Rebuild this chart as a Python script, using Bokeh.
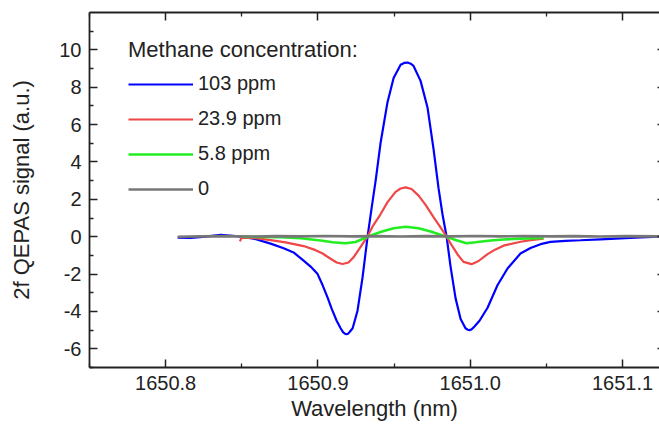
from bokeh.plotting import figure
from bokeh.models import Range1d, LinearAxis, FixedTicker, Legend, LegendItem, PrintfTickFormatter, CustomJSTickFormatter
from bokeh.embed import file_html
from bokeh.resources import INLINE

# ---- data ----
wl_103 = [1650.8079, 1650.8164, 1650.8263, 1650.8361, 1650.8440, 1650.8492, 1650.8578, 1650.8689,
          1650.8775, 1650.8840, 1650.8906, 1650.8952, 1650.8998, 1650.9031, 1650.9063, 1650.9090,
          1650.9123, 1650.9149, 1650.9166, 1650.9182, 1650.9197, 1650.9208, 1650.9228, 1650.9260,
          1650.9293, 1650.9326,
          1650.9352, 1650.9379, 1650.9411, 1650.9457, 1650.9497, 1650.9543, 1650.9566, 1650.9589,
          1650.9609, 1650.9628, 1650.9674, 1650.9720, 1650.9759, 1650.9792, 1650.9818, 1650.9845,
          1650.9871, 1650.9904, 1650.9937, 1650.9969, 1650.9984, 1650.9996, 1651.0010, 1651.0028,
          1651.0061, 1651.0114,
          1651.0179, 1651.0245, 1651.0330, 1651.0396, 1651.0462, 1651.0527, 1651.0626, 1651.0724,
          1651.0856, 1651.0987, 1651.1118, 1651.1243]
sig_103 = [-0.05, -0.07, 0.0, 0.10, 0.05, 0.0, -0.1, -0.37,
           -0.62, -0.84, -1.28, -1.6, -2.0, -2.6, -3.25, -3.85,
           -4.5, -4.9, -5.12, -5.22, -5.2, -5.1, -4.9, -3.96,
           -2.18, 0.0,
           1.5, 3.0, 5.0, 7.2, 8.5, 9.2, 9.3, 9.32,
           9.26, 9.14, 8.34, 6.9, 4.7, 2.6, 1.2, 0.0,
           -1.6, -3.3, -4.4, -4.9, -4.98, -5.0, -4.95, -4.8,
           -4.5, -3.8,
           -2.6, -1.7, -0.9, -0.6, -0.4, -0.28, -0.22, -0.19,
           -0.14, -0.09, -0.04, 0.0]

wl_239 = [1650.8488, 1650.8498, 1650.8591, 1650.8689, 1650.8788, 1650.8906, 1650.8985, 1650.9031,
          1650.9083, 1650.9123, 1650.9162, 1650.9201, 1650.9234, 1650.9267, 1650.9300, 1650.9326,
          1650.9359, 1650.9411, 1650.9457, 1650.9510, 1650.9543, 1650.9576, 1650.9615, 1650.9661,
          1650.9707, 1650.9759, 1650.9805, 1650.9845, 1650.9878, 1650.9917, 1650.9956, 1651.0009,
          1651.0055, 1651.0114, 1651.0166, 1651.0219, 1651.0331, 1651.0396, 1651.0482]
sig_239 = [-0.25, -0.05, -0.08, -0.18, -0.3, -0.5, -0.72, -0.9,
           -1.18, -1.38, -1.46, -1.38, -1.1, -0.7, -0.3, 0.02,
           0.55, 1.2, 1.85, 2.4, 2.58, 2.64, 2.55, 2.2,
           1.7, 1.05, 0.5, 0.0, -0.45, -0.95, -1.35, -1.47,
           -1.3, -0.93, -0.68, -0.48, -0.27, -0.18, -0.11]

wl_58 = [1650.8492, 1650.8624, 1650.8755, 1650.8886, 1650.9018, 1650.9096, 1650.9182, 1650.9247,
         1650.9293, 1650.9326, 1650.9411, 1650.9497, 1650.9576, 1650.9661, 1650.9740, 1650.9805,
         1650.9845, 1650.9904, 1650.9976, 1651.0035, 1651.0134, 1651.0219, 1651.0331, 1651.0482]
sig_58 = [0.0, -0.01, -0.03, -0.08, -0.2, -0.3, -0.35, -0.28,
          -0.12, 0.0, 0.25, 0.45, 0.53, 0.45, 0.28, 0.1,
          0.0, -0.18, -0.35, -0.3, -0.2, -0.15, -0.1, -0.07]

wl_0 = [1650.8079, 1650.8230, 1650.8394, 1650.8558, 1650.8722, 1650.8886, 1650.9050, 1650.9214,
        1650.9379, 1650.9543, 1650.9707, 1650.9871, 1651.0035, 1651.0199, 1651.0363, 1651.0527,
        1651.0692, 1651.0856, 1651.1020, 1651.1243]
sig_0 = [0.0, 0.02, 0.03, 0.01, 0.03, 0.02, 0.04, 0.02,
         0.03, 0.01, 0.03, 0.02, 0.04, 0.02, 0.03, 0.02,
         0.03, 0.01, 0.03, 0.02]

labels = ["103 ppm", "23.9 ppm", "5.8 ppm", "0"]
colors = ["#0000ff", "#f04646", "#22ee22", "#777777"]
widths = [2.2, 2.2, 2.6, 2.6]

x_major = [1650.8, 1650.9, 1651.0, 1651.1]
x_minor = [1650.75, 1650.85, 1650.95, 1651.05]
y_major = [-6, -4, -2, 0, 2, 4, 6, 8, 10]
y_minor = [-7, -5, -3, -1, 1, 3, 5, 7, 9, 11]

FONT = "Liberation Sans"
AXC = "#222222"

p = figure(width=659, height=432, output_backend="svg", toolbar_location=None,
           x_range=Range1d(1650.75, 1651.1243), y_range=Range1d(-7, 12),
           min_border_left=89, min_border_right=0, min_border_top=12, min_border_bottom=65,
           x_axis_label="Wavelength (nm)", y_axis_label="2f QEPAS signal (a.u.)")
p.grid.visible = False
p.outline_line_color = None
p.background_fill_color = "white"
p.border_fill_color = "white"

renderers = []
for xs, ys, c, w in zip([wl_103, wl_239, wl_58, wl_0], [sig_103, sig_239, sig_58, sig_0], colors, widths):
    renderers.append(p.line(xs, ys, line_color=c, line_width=w))

def style(ax, ticks, minor, labels_on=True):
    ax.ticker = FixedTicker(ticks=ticks, minor_ticks=minor)
    ax.axis_line_color = AXC
    ax.axis_line_width = 1.8
    ax.major_tick_line_color = AXC
    ax.minor_tick_line_color = AXC
    ax.major_tick_line_width = 1.5
    ax.minor_tick_line_width = 1.3
    ax.major_tick_in = 8
    ax.major_tick_out = 0
    ax.minor_tick_in = 4
    ax.minor_tick_out = 0
    ax.major_label_text_font = FONT
    ax.major_label_text_color = "#222222"
    ax.major_label_text_font_size = "20px"
    if labels_on:
        ax.major_label_standoff = 8
    else:
        ax.formatter = CustomJSTickFormatter(code="return ''")
        ax.major_label_standoff = 0

xa = p.xaxis[0]
style(xa, x_major, x_minor)
xa.formatter = PrintfTickFormatter(format="%.1f")
xa.axis_label_text_font = FONT
xa.axis_label_text_font_size = "22px"
xa.axis_label_text_font_style = "normal"
xa.axis_label_text_color = "#222222"
xa.axis_label_standoff = 3

ya = p.yaxis[0]
style(ya, y_major, y_minor)
ya.formatter = PrintfTickFormatter(format="%d")
ya.axis_label_text_font = FONT
ya.axis_label_text_font_size = "22px"
ya.axis_label_text_font_style = "normal"
ya.axis_label_text_color = "#222222"
ya.axis_label_standoff = 22

top = LinearAxis()
style(top, x_major, x_minor, labels_on=False)
p.add_layout(top, "above")

right = LinearAxis()
style(right, y_major, y_minor, labels_on=False)
right.axis_line_color = None
right.major_tick_in = 2
right.minor_tick_in = 0
p.add_layout(right, "right")

legend = Legend(items=[LegendItem(label=l, renderers=[r]) for l, r in zip(labels, renderers)],
                location=(39, 167))
legend.title = "Methane concentration:"
legend.title_text_font = FONT
legend.title_text_font_size = "22px"
legend.title_text_font_style = "normal"
legend.title_text_color = "#222222"
legend.title_standoff = 9
legend.label_text_font = FONT
legend.label_text_font_size = "20px"
legend.label_text_color = "#222222"
legend.glyph_width = 65
legend.glyph_height = 20
legend.label_height = 20
legend.label_standoff = 5
legend.spacing = 12
legend.padding = 0
legend.margin = 0
legend.border_line_color = None
legend.background_fill_alpha = 0
p.add_layout(legend)

open("out.html", "w").write(file_html(p, INLINE))
